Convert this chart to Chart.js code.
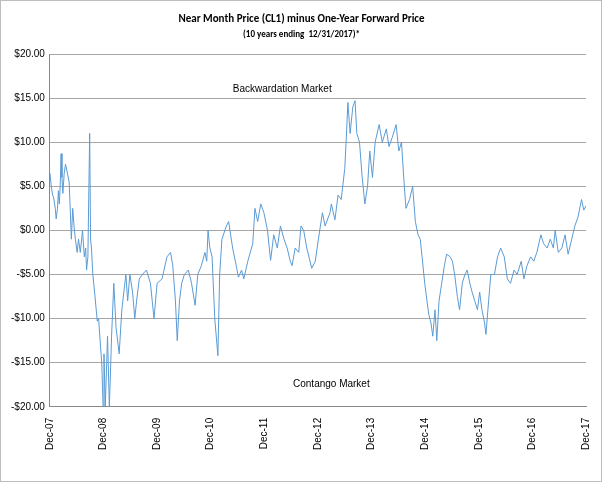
<!DOCTYPE html>
<html>
<head>
<meta charset="utf-8">
<script src="https://cdn.jsdelivr.net/npm/chart.js@4"></script>
<style>
  body { margin: 0; background: #fff; }
  #wrap { width: 600px; height: 480px; border: 1px solid #bdbdbd; }
</style>
</head>
<body>
<div id="wrap"><canvas id="c" width="600" height="480"></canvas></div>
<script>
// months since Dec-07 and spread (USD)
const months = [0,0.3,0.6,0.8,1.2,1.4,1.7,1.9,2.1,2.3,2.5,2.7,2.9,3.2,3.5,3.9,4.3,4.5,4.8,5.1,5.4,5.7,6.1,6.4,6.8,7.3,7.7,8.0,8.2,8.5,8.9,9.1,9.3,9.6,10.0,10.6,10.9,11.3,11.6,11.9,12.1,12.4,12.9,13.3,13.5,13.8,14.3,14.8,15.5,16.1,17.0,17.4,17.9,18.5,19.0,19.4,20.0,20.7,21.6,22.5,23.3,24.0,25.1,26.2,27.0,27.5,28.1,28.5,29.0,29.5,30.1,31.0,31.7,32.5,33.1,33.9,34.7,35.1,35.4,35.8,36.3,36.9,37.6,38.0,38.5,39.5,40.0,40.9,41.7,42.2,42.9,43.4,44.3,45.4,45.9,46.5,47.2,47.9,48.7,49.4,50.1,50.9,51.6,52.4,53.1,53.8,54.2,54.9,55.7,56.2,56.8,57.5,58.6,59.4,60.1,61.0,61.6,62.7,63.0,63.8,64.5,65.2,66.0,66.3,66.7,67.2,67.8,68.3,68.7,69.3,69.9,70.5,71.1,71.6,72.2,72.8,73.7,74.4,75.3,75.9,76.6,77.5,78.1,78.7,79.2,79.7,80.5,81.2,81.8,82.4,82.9,83.3,83.9,84.4,84.8,85.3,85.7,86.2,86.6,87.1,87.7,88.3,88.8,89.6,90.1,90.6,91.2,91.7,92.3,92.9,93.4,94.0,94.5,95.1,95.7,96.2,96.7,97.3,97.6,98.2,98.7,99.5,100.2,100.9,101.7,102.4,103.1,103.9,104.6,105.5,106.1,106.8,107.6,108.3,109.0,109.9,110.5,111.3,112.0,112.7,113.1,113.8,114.6,115.3,116.0,116.8,117.5,118.2,119.0,119.5,120];
const spread = [6.5,5,4,3.8,2.5,1.3,2.5,4.5,3,5,8.7,6,4.2,6.5,7.5,6.5,5.5,3,-1,2.5,0.5,-1,-2.5,-1,-2.5,0,-3,-2,-4.5,-3,11,-1,-2,-5,-7,-10.3,-10,-13,-15,-20,-14,-20,-12,-20,-17,-12,-6,-11,-14,-9,-5,-8,-5,-7,-10,-8,-5.5,-5,-4.5,-6,-10,-6,-5.5,-3,-2.5,-4,-8,-12.5,-8,-6,-5,-4.5,-6,-8.5,-5,-4,-2.5,-3.5,0,-2,-3,-10,-14.2,-5,-1,0.5,1,-2,-4,-5.3,-4.5,-5.5,-3.5,-1.5,2.5,1,3,2,0,-3.4,-0.5,-2,0.5,-1,-2,-3.5,-4,-2,-2.5,0.5,0,-2,-4.3,-3.5,-1,2,0.5,2,3,1.2,4,3.5,7,10,14.5,11,14,14.7,11,10,6,3,5,9,6,10,12,10,11.5,9.5,10.5,12,9,10,6,2.5,3.5,5,1,-0.5,-1,-3,-6,-8,-9.5,-10.5,-12,-9,-12.5,-8,-6,-4,-2.7,-3,-3.5,-5,-7.5,-9,-6,-5,-4.5,-6,-7,-8,-9,-7,-9,-10.5,-11.8,-8,-5,-5,-3,-2,-3,-5.5,-6,-4.5,-5,-3.5,-5.5,-4,-3,-3.5,-2.5,-0.5,-1.5,-2,-1,-2,0,-2.5,-2,-0.5,-2.7,-1,0.5,1.5,3.5,2.3,2.8];
const tickLabels = ['Dec-07','Dec-08','Dec-09','Dec-10','Dec-11','Dec-12','Dec-13','Dec-14','Dec-15','Dec-16','Dec-17'];
const notes = [
    { text: 'Backwardation Market', m: 52, v: 16 },
    { text: 'Contango Market', m: 63, v: -17.5 }
];

const notePlugin = {
    id: 'notes',
    afterDatasetsDraw(chart) {
        const ctx = chart.ctx;
        ctx.save();
        ctx.font = '10px "Liberation Sans", Arial';
        ctx.fillStyle = '#000';
        ctx.textAlign = 'center';
        ctx.textBaseline = 'middle';
        notes.forEach(n => {
            ctx.fillText(n.text, chart.scales.x.getPixelForValue(n.m), chart.scales.y.getPixelForValue(n.v));
        });
        ctx.restore();
    }
};

new Chart(document.getElementById('c'), {
    type: 'line',
    data: {
        datasets: [{
            data: months.map((m, i) => ({ x: m, y: spread[i] })),
            borderColor: '#5b9bd5',
            borderWidth: 1,
            pointRadius: 0,
            tension: 0
        }]
    },
    options: {
        responsive: false,
        animation: false,
        layout: { padding: { left: 5, right: 4, top: 4, bottom: 28 } },
        plugins: {
            legend: { display: false },
            tooltip: { enabled: false },
            title: {
                display: true,
                text: 'Near Month Price (CL1) minus One-Year Forward Price',
                color: '#000',
                font: { family: 'Calibri, "Liberation Sans", Arial', size: 11, weight: 'bold' },
                padding: { top: 8, bottom: 3 }
            },
            subtitle: {
                display: true,
                text: '(10 years ending  12/31/2017)*',
                color: '#000',
                font: { family: 'Calibri, "Liberation Sans", Arial', size: 9, weight: 'bold' },
                padding: { bottom: 14 }
            }
        },
        scales: {
            x: {
                type: 'linear',
                min: 0,
                max: 120,
                grid: { display: false, drawTicks: true },
                border: { color: '#888' },
                afterBuildTicks: axis => {
                    axis.ticks = tickLabels.map((_, i) => ({ value: i * 12 }));
                },
                ticks: {
                    autoSkip: false,
                    maxRotation: 90,
                    minRotation: 90,
                    color: '#000',
                    font: { family: '"Liberation Sans", Arial', size: 10 },
                    callback: v => tickLabels[v / 12]
                }
            },
            y: {
                min: -20,
                max: 20,
                grid: { color: '#a6a6a6', drawTicks: false },
                border: { color: '#888' },
                ticks: {
                    stepSize: 5,
                    padding: 5,
                    color: '#000',
                    font: { family: '"Liberation Sans", Arial', size: 10 },
                    callback: v => (v < 0 ? '-$' : '$') + Math.abs(v).toFixed(2)
                }
            }
        }
    },
    plugins: [notePlugin]
});
</script>
</body>
</html>
